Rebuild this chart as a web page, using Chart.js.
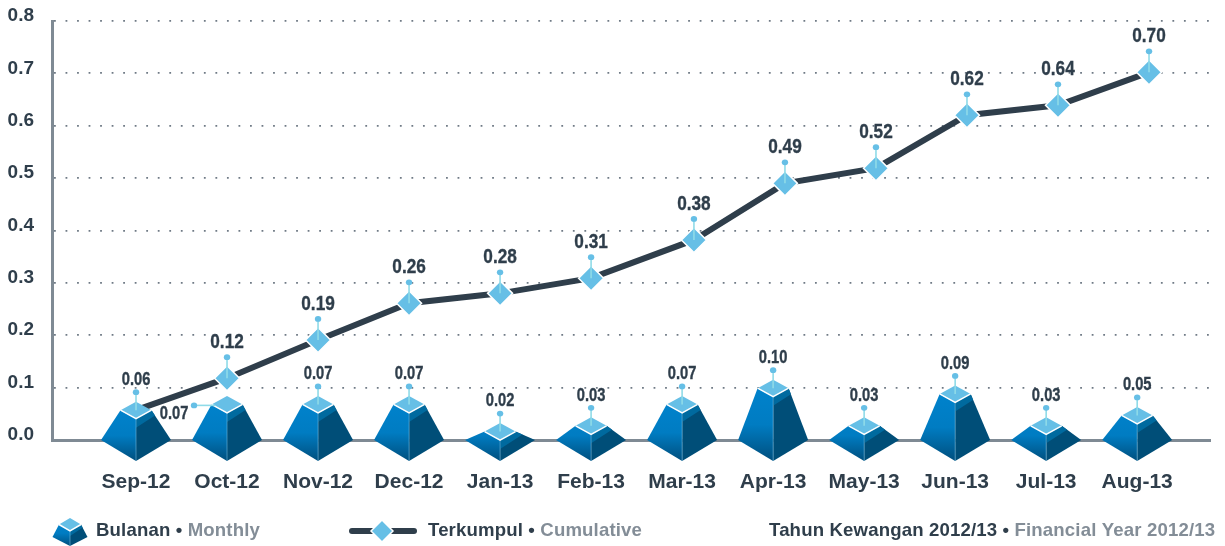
<!DOCTYPE html>
<html><head><meta charset="utf-8">
<style>html,body{margin:0;padding:0;background:#fff}canvas{display:block}</style>
<script src="https://cdn.jsdelivr.net/npm/chart.js@4/dist/chart.umd.min.js"></script>
</head><body><canvas id="c" width="1225" height="546"></canvas>
<script>
const months=['Sep-12','Oct-12','Nov-12','Dec-12','Jan-13','Feb-13','Mar-13','Apr-13','May-13','Jun-13','Jul-13','Aug-13'];
const monthly=[0.057,0.068,0.068,0.068,0.016,0.027,0.068,0.099,0.027,0.088,0.027,0.047];
const cumulative=[0.057,0.118,0.191,0.261,0.28,0.309,0.382,0.49,0.519,0.62,0.639,0.702];
// the cumulative line sits slightly right of its month from Mar-13 on, as in the reference
const cumulativeSlots=[0,1,2,3,4,5,6.13,7.13,8.13,9.13,10.13,11.13];
const yTicks=[0,0.1,0.2,0.3,0.4,0.5,0.6,0.7,0.8];

const DARK='#2f3e4b',GRAY='#838d97',SKY='#66bfe6',STEM='#8fdbe8';
function pyramid(ctx,x,yc,base,o){
  const {bw,cw,ch,ap}=o, bot=base+ap;
  let g=ctx.createLinearGradient(0,Math.min(yc,base-30*o.s),0,bot);
  g.addColorStop(0,'#0082cc');g.addColorStop(0.5,'#007cc2');g.addColorStop(1,'#004f7e');
  ctx.fillStyle=g;ctx.beginPath();ctx.moveTo(x-bw,base);ctx.lineTo(x-cw,yc);ctx.lineTo(x,yc+ch);ctx.lineTo(x,bot);ctx.closePath();ctx.fill();
  ctx.fillStyle='#004e78';ctx.beginPath();ctx.moveTo(x+bw,base);ctx.lineTo(x+cw,yc);ctx.lineTo(x,yc+ch);ctx.lineTo(x,bot);ctx.closePath();ctx.fill();
  // lighter band under the cap, right face (kept inside the face)
  ctx.save();
  ctx.beginPath();ctx.moveTo(x+bw,base);ctx.lineTo(x+cw,yc);ctx.lineTo(x,yc+ch);ctx.lineTo(x,bot);ctx.closePath();ctx.clip();
  ctx.fillStyle='#006a9f';ctx.beginPath();ctx.moveTo(x,yc+ch);ctx.lineTo(x+cw,yc);ctx.lineTo(x+cw+10*o.s,yc+1*o.s);ctx.lineTo(x,yc+ch+9*o.s);ctx.closePath();ctx.fill();
  ctx.restore();
  ctx.strokeStyle='rgba(120,190,225,.55)';ctx.lineWidth=1;ctx.beginPath();ctx.moveTo(x,yc+ch);ctx.lineTo(x,bot);ctx.stroke();
  ctx.fillStyle=SKY;ctx.beginPath();ctx.moveTo(x-cw,yc);ctx.lineTo(x,yc-ch);ctx.lineTo(x+cw,yc);ctx.lineTo(x,yc+ch);ctx.closePath();ctx.fill();
  ctx.strokeStyle='#fff';ctx.lineWidth=1.5;ctx.beginPath();ctx.moveTo(x-cw,yc);ctx.lineTo(x,yc+ch);ctx.lineTo(x+cw,yc);ctx.stroke();
}
const S={bw:35,cw:15.5,ch:8.5,ap:21,s:1};
function stem(ctx,x,y,x2,y2){
  ctx.strokeStyle=STEM;ctx.lineWidth=1.6;ctx.beginPath();ctx.moveTo(x,y);ctx.lineTo(x2,y2);ctx.stroke();
  ctx.fillStyle=SKY;ctx.beginPath();ctx.ellipse(x2,y2,3.2,2.9,0,0,7);ctx.fill();
}
function label(ctx,t,x,y,size){
  ctx.save();ctx.translate(x,y);ctx.scale(0.84,1);
  ctx.fillStyle=DARK;ctx.font='bold '+size+'px "Liberation Sans"';
  ctx.textAlign='center';ctx.textBaseline='middle';ctx.fillText(t,0,0);
  ctx.strokeStyle=DARK;ctx.lineWidth=0.35;ctx.strokeText(t,0,0);ctx.restore();
}
function rich(ctx,x,y,a,b,size){
  ctx.save();ctx.letterSpacing='0.15px';
  ctx.font='bold '+size+'px "Liberation Sans"';ctx.textAlign='left';ctx.textBaseline='middle';
  ctx.fillStyle=DARK;const t=a+' \u2022 ';ctx.fillText(t,x,y);
  const w=ctx.measureText(t).width;ctx.fillStyle=GRAY;ctx.fillText(b,x+w,y);ctx.restore();
}
const art={
  id:'art',
  afterDatasetDraw(chart,args){
    if(args.index!==0)return;
    const ctx=chart.ctx,base=chart.scales.y.getPixelForValue(0);
    ctx.save();
    chart.getDatasetMeta(0).data.forEach(el=>pyramid(ctx,el.x,el.y,base,S));
    ctx.restore();
  },
  afterDraw(chart){
    const ctx=chart.ctx;ctx.save();
    chart.getDatasetMeta(0).data.forEach((el,i)=>{
      if(i===1){
        stem(ctx,el.x-12,el.y+1,el.x-33,el.y+1);
        label(ctx,monthly[i].toFixed(2),el.x-53,el.y+10,17.5);
      }else{
        stem(ctx,el.x,el.y,el.x,el.y-18);
        label(ctx,monthly[i].toFixed(2),el.x,el.y-30,17.5);
      }
    });
    chart.getDatasetMeta(1).data.forEach((el,i)=>{
      if(i===0)return;
      stem(ctx,el.x,el.y,el.x,el.y-21);
      label(ctx,cumulative[i].toFixed(2),el.x,el.y-36,20.5);
    });
    // legend
    pyramid(ctx,70,524.5,537,{bw:17.5,cw:11,ch:6.5,ap:9,s:.55});
    rich(ctx,96,531,'Bulanan','Monthly',18.6);
    ctx.strokeStyle=DARK;ctx.lineWidth=6;ctx.lineCap='round';ctx.beginPath();ctx.moveTo(352,531);ctx.lineTo(414,531);ctx.stroke();
    ctx.fillStyle=SKY;ctx.strokeStyle='#fff';ctx.lineWidth=1.5;ctx.beginPath();ctx.moveTo(371,531);ctx.lineTo(382,520);ctx.lineTo(393,531);ctx.lineTo(382,542);ctx.closePath();ctx.fill();ctx.stroke();
    rich(ctx,428,531,'Terkumpul','Cumulative',18.6);
    rich(ctx,769,531,'Tahun Kewangan 2012/13','Financial Year 2012/13',18.6);
    ctx.restore();
  }
};
new Chart(document.getElementById('c'),{
  data:{datasets:[
    {type:'bar',label:'Bulanan',data:monthly.map((v,i)=>({x:i,y:v})),backgroundColor:'transparent',barThickness:70,order:1},
    {type:'line',label:'Terkumpul',data:cumulative.map((v,i)=>({x:cumulativeSlots[i],y:v})),borderColor:DARK,borderWidth:6,
     pointStyle:'rectRot',pointRadius:c=>c.dataIndex===0?0:12.5,pointBackgroundColor:SKY,pointBorderColor:'#fff',pointBorderWidth:1.5,tension:0,clip:false,order:2}
  ]},
  options:{
    responsive:false,animation:false,
    layout:{padding:{top:21,right:15,left:0,bottom:0}},
    plugins:{legend:{display:false},tooltip:{enabled:false}},
    scales:{
      x:{type:'linear',offset:false,min:-0.923,max:11.8,
        afterBuildTicks:s=>{s.ticks=months.map((_,i)=>({value:i}));},
        afterFit:s=>{s.height=106;s.paddingLeft=0;s.paddingRight=0;},
        grid:{display:false},border:{color:'#7f8a94',width:3},
        ticks:{callback:v=>months[v],autoSkip:false,maxRotation:0,padding:22,color:DARK,font:{family:'"Liberation Sans"',weight:'bold',size:21}}},
      y:{min:0,max:0.8,
        afterBuildTicks:s=>{s.ticks=yTicks.map(v=>({value:v}));},
        afterFit:s=>{s.width=52;s.paddingTop=0;s.paddingBottom=0;},
        grid:{color:'#6f7a85',lineWidth:1.8,drawTicks:false},
        border:{color:'#7f8a94',width:3,dash:[1.8,9.73]},
        ticks:{callback:v=>v.toFixed(1),padding:18,labelOffset:-5,color:DARK,font:{family:'"Liberation Sans"',weight:'bold',size:19}}}
    }
  },
  plugins:[art]
});
</script></body></html>
